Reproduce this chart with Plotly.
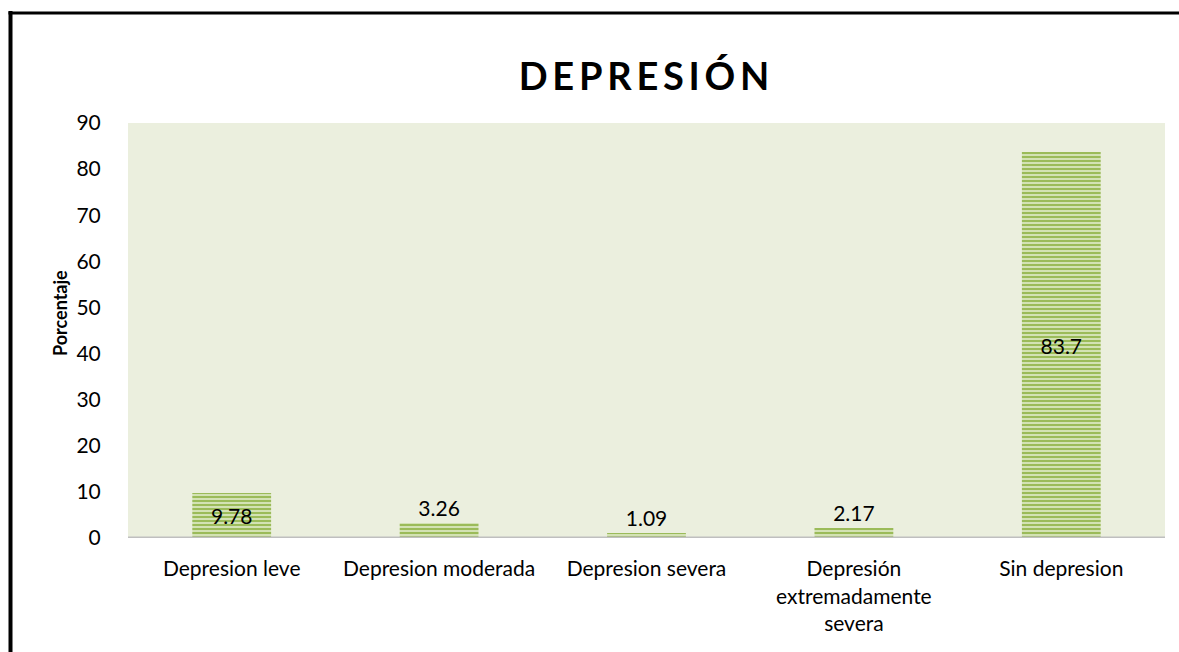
import plotly.graph_objects as go

categories = ["Depresion leve", "Depresion moderada", "Depresion severa",
              "Depresión<br>extremadamente<br>severa", "Sin depresion"]
values = [9.78, 3.26, 1.09, 2.17, 83.7]
labels = ["9.78", "3.26", "1.09", "2.17", "83.7"]
text_pos = ["inside", "outside", "outside", "outside", "inside"]
y_ticks = [0, 10, 20, 30, 40, 50, 60, 70, 80, 90]
title_text = "DEPRESIÓN"
y_title = "Porcentaje"

W, H = 1179, 652
ml, mr, mt, mb = 128, 14, 123, 114
pw, ph = W - ml - mr, H - mt - mb
FONT = "Lato, Open Sans, sans-serif"

fig = go.Figure()
fig.add_trace(go.Bar(
    x=categories, y=values, text=labels, textposition=text_pos,
    insidetextanchor="middle", cliponaxis=False,
    textfont=dict(family=FONT, size=21, color="#000000"),
    marker=dict(color="#C8DBA0", line=dict(width=0),
                pattern=dict(shape="-", fgcolor="#9BBB59", bgcolor="#D3E2B4",
                             size=4, solidity=0.5, fillmode="replace")),
))

def px_x(x):
    return (x - ml) / pw

def px_y(y):
    return 1 - (y - mt) / ph

spaced_title = "\u2009".join(title_text)

fig.update_layout(
    width=W, height=H,
    margin=dict(l=ml, r=mr, t=mt, b=mb),
    paper_bgcolor="white", plot_bgcolor="#EBEFDE",
    bargap=0.62, showlegend=False,
    font=dict(family=FONT, size=21, color="#000000"),
    title=dict(text="<b>" + spaced_title + "</b>", x=644 / W, xanchor="center",
               y=1 - 77 / H, yanchor="middle",
               font=dict(size=38, family=FONT, color="#000000")),
    xaxis=dict(showgrid=False, showline=False, zeroline=False,
               ticks="outside", ticklen=0, ticklabelstandoff=12,
               tickfont=dict(size=21)),
    yaxis=dict(range=[0, 90], tickvals=y_ticks, showgrid=False, showline=False,
               zeroline=False, ticks="outside", ticklen=0, ticklabelstandoff=22,
               tickfont=dict(size=21)),
    annotations=[
        dict(text="<b>" + y_title + "</b>", xref="paper", yref="paper",
             x=px_x(60), y=px_y(313), xanchor="center", yanchor="middle",
             textangle=-90, showarrow=False, font=dict(size=18, family=FONT)),
    ],
    shapes=[
        dict(type="line", xref="paper", yref="y", x0=0, x1=1, y0=0, y1=0,
             line=dict(color="#BFBFBF", width=3)),
        dict(type="line", xref="paper", yref="paper",
             x0=px_x(10.5), x1=px_x(10.5), y0=px_y(11), y1=px_y(H + 5),
             line=dict(color="#000000", width=4)),
        dict(type="line", xref="paper", yref="paper",
             x0=px_x(8.5), x1=px_x(W + 5), y0=px_y(13), y1=px_y(13),
             line=dict(color="#000000", width=3)),
    ],
)

fig.write_html("out.html", config={"displayModeBar": False},
               post_script="document.body.style.margin='0';document.body.style.overflow='hidden';")
